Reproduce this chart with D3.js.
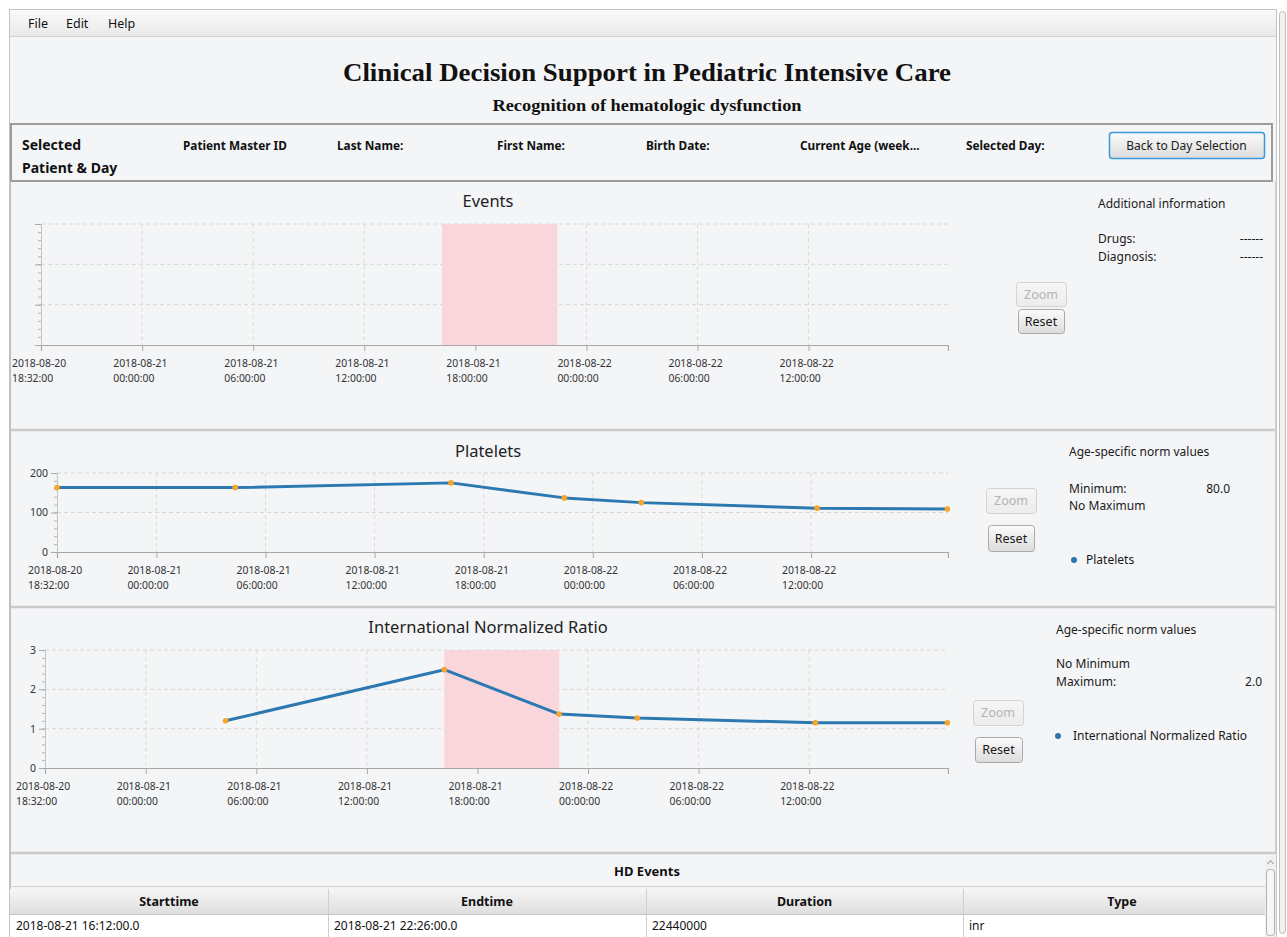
<!DOCTYPE html>
<html>
<head>
<meta charset="utf-8">
<script src="https://cdn.jsdelivr.net/npm/d3@7"></script>
<style>
body { margin: 0; background: #fff; }
svg { display: block; font-family: "Noto Sans", sans-serif; }
</style>
</head>
<body>
<script>
const W = 1287, H = 937;
const parse = d3.utcParse("%Y-%m-%d %H:%M");

// ---- data ----
const menuItems = ["File", "Edit", "Help"];
const patientFields = ["Patient Master ID", "Last Name:", "First Name:", "Birth Date:", "Current Age (week...", "Selected Day:"];
const domainTimes = ["2018-08-20 18:32", "2018-08-22 19:32"];
const tickTimes = ["2018-08-20 18:32", "2018-08-21 00:00", "2018-08-21 06:00", "2018-08-21 12:00",
                   "2018-08-21 18:00", "2018-08-22 00:00", "2018-08-22 06:00", "2018-08-22 12:00"];
const sampleTimes = ["2018-08-20 18:32", "2018-08-21 04:20", "2018-08-21 16:12", "2018-08-21 22:26",
                     "2018-08-22 02:40", "2018-08-22 12:20", "2018-08-22 19:30"];
const plateletValues = [163, 163, 175, 137, 125, 111, 109];
const inrValues = [null, 1.2, 2.5, 1.37, 1.27, 1.15, 1.15];
const hdEvent = ["2018-08-21 16:12", "2018-08-21 22:26"];
const tableColumns = ["Starttime", "Endtime", "Duration", "Type"];
const tableRows = [["2018-08-21 16:12:00.0", "2018-08-21 22:26:00.0", "22440000", "inr"]];

const lineColor = "#2c79b1";
const dotColor = "#f5a52a";
const pink = "#f8d6dc";

const svg = d3.select("body").append("svg")
    .attr("width", W)
    .attr("height", H);

const defs = svg.append("defs");
function grad(id, c1, c2) {
    const lg = defs.append("linearGradient").attr("id", id).attr("x1", 0).attr("y1", 0).attr("x2", 0).attr("y2", 1);
    lg.append("stop").attr("offset", "0%").attr("stop-color", c1);
    lg.append("stop").attr("offset", "100%").attr("stop-color", c2);
}
grad("menuGrad", "#fafafa", "#e9e9e9");
grad("btnGrad", "#fbfbfb", "#dcdcdc");
grad("btnOff", "#f6f6f6", "#ececec");
grad("headGrad", "#f6f6f6", "#dedede");

// window frame
svg.append("rect").attr("x", 9.5).attr("y", 9.5).attr("width", 1267).attr("height", 930)
    .attr("fill", "#f4f5f7").attr("stroke", "#c4c4c4");

// menu bar
svg.append("rect").attr("x", 10).attr("y", 10).attr("width", 1266).attr("height", 26).attr("fill", "url(#menuGrad)");
svg.append("line").attr("x1", 10).attr("x2", 1276).attr("y1", 36.5).attr("y2", 36.5).attr("stroke", "#d2d2d2");
svg.append("g").selectAll("text").data(menuItems).join("text")
    .attr("x", (d, i) => [28, 66, 108][i]).attr("y", 28)
    .attr("font-size", 12.5).attr("fill", "#111").text(d => d);

// window scrollbar
svg.append("rect").attr("x", 1279.5).attr("y", 11.5).attr("width", 6).attr("height", 922).attr("rx", 3)
    .attr("fill", "#f1f1f1").attr("stroke", "#bdbdbd");

// title block
svg.append("text").attr("x", 647).attr("y", 81).attr("text-anchor", "middle")
    .attr("font-family", "'Liberation Serif', serif").attr("font-weight", "bold").attr("font-size", 25)
    .attr("textLength", 608).attr("lengthAdjust", "spacingAndGlyphs").attr("fill", "#111")
    .text("Clinical Decision Support in Pediatric Intensive Care");
svg.append("text").attr("x", 647).attr("y", 111).attr("text-anchor", "middle")
    .attr("font-family", "'Liberation Serif', serif").attr("font-weight", "bold").attr("font-size", 16)
    .attr("textLength", 309).attr("lengthAdjust", "spacingAndGlyphs").attr("fill", "#111")
    .text("Recognition of hematologic dysfunction");

// patient bar
svg.append("rect").attr("x", 11).attr("y", 124).attr("width", 1261).attr("height", 57)
    .attr("fill", "#f4f5f7").attr("stroke", "#9c9c9c").attr("stroke-width", 2);
svg.append("text").attr("x", 22).attr("y", 150).attr("font-size", 14).attr("font-weight", "bold").attr("fill", "#111").text("Selected");
svg.append("text").attr("x", 22).attr("y", 173).attr("font-size", 14).attr("font-weight", "bold").attr("fill", "#111").text("Patient & Day");
svg.append("g").selectAll("text").data(patientFields).join("text")
    .attr("x", (d, i) => [183, 337, 497, 646, 800, 966][i]).attr("y", 150)
    .attr("font-size", 11.8).attr("font-weight", "bold").attr("fill", "#111").text(d => d);

function button(x0, y0, w, h, label, opts = {}) {
    const g = svg.append("g");
    g.append("rect").attr("x", x0 + 0.5).attr("y", y0 + 0.5).attr("width", w).attr("height", h).attr("rx", 3)
        .attr("fill", opts.disabled ? "url(#btnOff)" : "url(#btnGrad)")
        .attr("stroke", opts.focus ? "#3a9ad9" : (opts.disabled ? "#d3d3d3" : "#a9a9a9"))
        .attr("stroke-width", opts.focus ? 1.5 : 1);
    g.append("text").attr("x", x0 + w / 2).attr("y", y0 + h / 2 + 4.5).attr("text-anchor", "middle")
        .attr("font-size", opts.size || 12.5).attr("fill", opts.disabled ? "#b3b3b3" : "#1a1a1a").text(label);
}
button(1109, 132, 155, 26, "Back to Day Selection", { focus: true, size: 12 });

// section separators
[[430], [607], [853]].forEach(([yy]) => {
    svg.append("line").attr("x1", 10).attr("x2", 1276).attr("y1", yy).attr("y2", yy)
        .attr("stroke", "#cbcbcb").attr("stroke-width", 2.5);
});
svg.append("line").attr("x1", 10.5).attr("x2", 10.5).attr("y1", 181).attr("y2", 937).attr("stroke", "#bdbdbd");
svg.append("line").attr("x1", 1275.5).attr("x2", 1275.5).attr("y1", 181).attr("y2", 853).attr("stroke", "#d0d0d0");

const fmtDay = d3.utcFormat("%Y-%m-%d");
const fmtTime = d3.utcFormat("%H:%M:%S");

function chart(o) {
    const g = svg.append("g");
    const x = d3.scaleUtc().domain(domainTimes.map(parse)).range([o.left, 948]);
    const y = d3.scaleLinear().domain(o.yDomain).range([o.bottom, o.top]);
    const ticks = tickTimes.map(parse);

    g.append("text").attr("x", 488).attr("y", o.titleY).attr("text-anchor", "middle")
        .attr("font-size", 16.5).attr("fill", "#222").text(o.title);

    // grid
    g.append("g").selectAll("line").data(o.yTicks.filter(v => v !== o.yDomain[0])).join("line")
        .attr("x1", o.left).attr("x2", 948).attr("y1", d => y(d)).attr("y2", d => y(d))
        .attr("stroke", "#d6d6d6").attr("stroke-dasharray", "4,3");
    g.append("g").selectAll("line").data(ticks.slice(1)).join("line")
        .attr("x1", d => x(d)).attr("x2", d => x(d)).attr("y1", o.top).attr("y2", o.bottom)
        .attr("stroke", "#dcdcdc").attr("stroke-dasharray", "4,3");

    if (o.band) {
        const a = x(parse(hdEvent[0])), b = x(parse(hdEvent[1]));
        g.append("rect").attr("x", a).attr("y", o.top).attr("width", b - a).attr("height", o.bottom - o.top)
            .attr("fill", pink);
    }

    // y axis with minor ticks
    const minor = d3.range(o.yDomain[0], o.yDomain[1] + 1e-9, o.minorStep);
    g.append("g").attr("transform", `translate(${o.left},0)`)
        .call(d3.axisLeft(y).tickValues(minor).tickSize(3).tickFormat(""))
        .call(s => s.selectAll("line").attr("stroke", "#b5b5b5"))
        .call(s => s.select(".domain").attr("stroke", "#c4c4c4"));
    g.append("g").attr("transform", `translate(${o.left},0)`)
        .call(d3.axisLeft(y).tickValues(o.yTicks).tickSize(6).tickPadding(3).tickFormat(o.labels ? d3.format("d") : ""))
        .call(s => s.select(".domain").remove())
        .call(s => s.selectAll("line").attr("stroke", "#a8a8a8"))
        .call(s => s.selectAll("text").attr("font-size", 10.5).attr("fill", "#333").attr("font-family", "'Noto Sans', sans-serif"));

    // x axis
    g.append("g").attr("transform", `translate(0,${o.bottom})`)
        .call(d3.axisBottom(x).tickValues(ticks).tickSize(6).tickFormat(""))
        .call(s => s.select(".domain").attr("stroke", "#a8a8a8").attr("stroke-width", 1.2))
        .call(s => s.selectAll("line").attr("stroke", "#a8a8a8"));
    const lab = g.append("g").selectAll("text").data(ticks).join("text")
        .attr("font-size", 10.4).attr("fill", "#333");
    lab.append("tspan").attr("x", d => x(d) - 29).attr("y", o.bottom + 22).text(d => fmtDay(d));
    lab.append("tspan").attr("x", d => x(d) - 29).attr("y", o.bottom + 37).text(d => fmtTime(d));

    if (o.values) {
        const pts = sampleTimes.map((t, i) => ({ t: parse(t), v: o.values[i] })).filter(d => d.v != null);
        g.append("path").datum(pts)
            .attr("fill", "none").attr("stroke", lineColor).attr("stroke-width", 3)
            .attr("stroke-linejoin", "round")
            .attr("d", d3.line().x(d => x(d.t)).y(d => y(d.v)));
        g.append("g").selectAll("circle").data(pts).join("circle")
            .attr("cx", d => x(d.t)).attr("cy", d => y(d.v)).attr("r", 2.8).attr("fill", dotColor);
    }
}

chart({ title: "Events", titleY: 207, left: 41, top: 224, bottom: 345, yDomain: [0, 3], yTicks: [0, 1, 2, 3],
        minorStep: 0.2, labels: false, band: true });
chart({ title: "Platelets", titleY: 457, left: 57, top: 473, bottom: 552, yDomain: [0, 200], yTicks: [0, 100, 200],
        minorStep: 20, labels: true, values: plateletValues });
chart({ title: "International Normalized Ratio", titleY: 633, left: 45, top: 650, bottom: 768, yDomain: [0, 3],
        yTicks: [0, 1, 2, 3], minorStep: 0.2, labels: true, band: true, values: inrValues });

// zoom / reset buttons
button(1016, 282, 50, 24, "Zoom", { disabled: true });
button(1018, 309, 46, 24, "Reset");
button(986, 488, 50, 25, "Zoom", { disabled: true });
button(988, 525, 46, 26, "Reset");
button(973, 700, 50, 25, "Zoom", { disabled: true });
button(975, 737, 47, 25, "Reset");

// side panels
function txt(x0, y0, s, anchor = "start") {
    svg.append("text").attr("x", x0).attr("y", y0).attr("text-anchor", anchor)
        .attr("font-size", 12).attr("fill", "#1a1a1a").text(s);
}
txt(1098, 208, "Additional information");
txt(1098, 243, "Drugs:");
txt(1098, 261, "Diagnosis:");
txt(1263, 243, "------", "end");
txt(1263, 261, "------", "end");

txt(1069, 456, "Age-specific norm values");
txt(1069, 493, "Minimum:");
txt(1230, 493, "80.0", "end");
txt(1069, 510, "No Maximum");
svg.append("circle").attr("cx", 1074).attr("cy", 560).attr("r", 3).attr("fill", lineColor);
txt(1086, 564, "Platelets");

txt(1056, 634, "Age-specific norm values");
txt(1056, 668, "No Minimum");
txt(1056, 686, "Maximum:");
txt(1262, 686, "2.0", "end");
svg.append("circle").attr("cx", 1058).attr("cy", 736).attr("r", 3).attr("fill", lineColor);
txt(1073, 740, "International Normalized Ratio");

// HD events table
svg.append("text").attr("x", 647).attr("y", 876).attr("text-anchor", "middle")
    .attr("font-size", 13).attr("font-weight", "bold").attr("fill", "#111").text("HD Events");
svg.append("line").attr("x1", 10).attr("x2", 1265).attr("y1", 886.5).attr("y2", 886.5).attr("stroke", "#d0d0d0");
const colX = [10, 328, 646, 963, 1281];
const tbl = svg.append("g");
tbl.append("rect").attr("x", 10).attr("y", 889).attr("width", 1255).attr("height", 25).attr("fill", "url(#headGrad)");
tbl.append("rect").attr("x", 10).attr("y", 914).attr("width", 1255).attr("height", 23).attr("fill", "#fff");
tbl.selectAll("line.col").data(colX.slice(1, 4)).join("line").attr("class", "col")
    .attr("x1", d => d + 0.5).attr("x2", d => d + 0.5).attr("y1", 889).attr("y2", 937).attr("stroke", "#cfcfcf");
tbl.append("line").attr("x1", 10).attr("x2", 1265).attr("y1", 914.5).attr("y2", 914.5).attr("stroke", "#c6c6c6");
tbl.selectAll("text.head").data(tableColumns).join("text").attr("class", "head")
    .attr("x", (d, i) => (colX[i] + colX[i + 1]) / 2).attr("y", 906).attr("text-anchor", "middle")
    .attr("font-size", 12.5).attr("font-weight", "bold").attr("fill", "#111").text(d => d);
tableRows.forEach((row, r) => {
    tbl.selectAll(`text.r${r}`).data(row).join("text").attr("class", `r${r}`)
        .attr("x", (d, i) => colX[i] + 6).attr("y", 930 + r * 23)
        .attr("font-size", 12).attr("fill", "#111").text(d => d);
});
// table scrollbar
svg.append("rect").attr("x", 1265).attr("y", 856).attr("width", 11).attr("height", 81).attr("fill", "#f0f0f0");
svg.append("path").attr("d", "M1267.5,864 L1270.5,860.5 L1273.5,864").attr("fill", "none").attr("stroke", "#888");
svg.append("rect").attr("x", 1266.5).attr("y", 869.5).attr("width", 8).attr("height", 66).attr("rx", 3)
    .attr("fill", "#f7f7f7").attr("stroke", "#b0b0b0");
</script>
</body>
</html>
